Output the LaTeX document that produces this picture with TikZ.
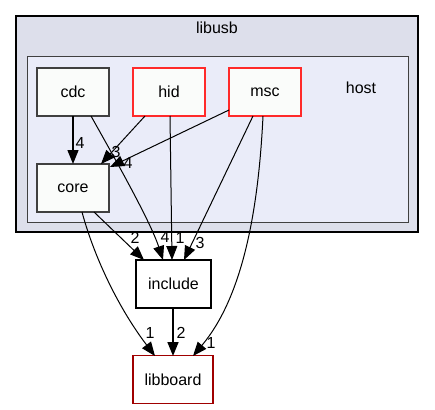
\documentclass[tikz,border=0pt]{standalone}
\usepackage{fontspec}
\setmainfont{Liberation Sans}
\usetikzlibrary{arrows.meta}
\definecolor{outerfill}{HTML}{DDDFEB}
\definecolor{innerfill}{HTML}{EAECF9}
\definecolor{nodefill}{HTML}{FAFCFA}
\definecolor{grayb}{HTML}{404040}
\definecolor{redb}{HTML}{FF2A2A}
\definecolor{darkredb}{HTML}{A00000}
\tikzset{
  dirbox/.style={draw=grayb, line width=1.15pt, fill=nodefill, minimum width=72pt, minimum height=48pt, inner sep=0pt, font=\fontsize{16}{18}\selectfont},
  redbox/.style={dirbox, draw=redb, line width=1.05pt},
  blackbox/.style={dirbox, draw=black, line width=1.5pt, fill=white, minimum width=75pt},
  boardbox/.style={dirbox, draw=darkredb, line width=1.2pt, fill=white, minimum width=80pt},
  dep/.style={draw=black, line width=1pt, -{Triangle[length=14pt,width=11pt]}},
  lab/.style={font=\fontsize{16}{18}\selectfont, inner sep=0pt}
}
\begin{document}
\begin{tikzpicture}[x=1pt,y=-1pt]
\useasboundingbox (0,0) rectangle (435,409);
\fill[white] (0,0) rectangle (435,409);
\draw[fill=outerfill, draw=black, line width=1.2pt] (16,16) rectangle (418,232);
\node[lab] at (217,28) {libusb};
\draw[fill=innerfill, draw=grayb, line width=1pt] (27,57) rectangle (408,222);
\node[lab] at (361,88) {host};
\node[dirbox] (cdc) at (73,92) {cdc};
\node[redbox] (hid) at (169,92) {hid};
\node[redbox] (msc) at (265,92) {msc};
\node[dirbox] (core) at (73,188) {core};
\node[blackbox] (inc) at (173.5,284) {include};
\node[boardbox] (lb) at (173,379.5) {libboard};
\coordinate (cdcA) at (73,116);
\coordinate (cdcB) at (91,116);
\coordinate (hidA) at (145,116);
\coordinate (hidB) at (170,116);
\coordinate (mscA) at (229,110);
\coordinate (mscB) at (253,116);
\coordinate (mscC) at (263,116);
\coordinate (coreA) at (82,212);
\coordinate (coreB) at (94,212);
\coordinate (coreT) at (73,164);
\coordinate (coreT2) at (101,164);
\coordinate (coreT3) at (110,167);
\coordinate (incT1) at (144,260);
\coordinate (incT2) at (163,260);
\coordinate (incT3) at (172,260);
\coordinate (incT4) at (184,260);
\coordinate (incB) at (173,308);
\coordinate (lbT1) at (155,356);
\coordinate (lbT2) at (173,356);
\coordinate (lbT3) at (193,356);
\draw[dep, line width=1.3pt] (cdcA) -- (coreT);
\node[lab] at (80,143) {4};
\draw[dep] (cdcB) .. controls (110,150) and (150,220) .. (incT2);
\node[lab] at (165,237) {4};
\draw[dep] (hidA) -- (coreT2);
\node[lab] at (116,152) {3};
\draw[dep] (hidB) -- (incT3);
\node[lab] at (180,238) {1};
\draw[dep] (mscA) -- (coreT3);
\node[lab] at (128,163) {4};
\draw[dep] (mscB) -- (incT4);
\node[lab] at (200,243) {3};
\draw[dep] (mscC) .. controls (258,220) and (240,300) .. (lbT3);
\node[lab] at (211,343) {1};
\draw[dep] (coreB) -- (incT1);
\node[lab] at (135,238) {2};
\draw[dep] (coreA) .. controls (95,260) and (120,310) .. (lbT1);
\node[lab] at (150,333) {1};
\draw[dep, line width=1.6pt] (incB) -- (lbT2);
\node[lab] at (181,333) {2};
\end{tikzpicture}
\end{document}
